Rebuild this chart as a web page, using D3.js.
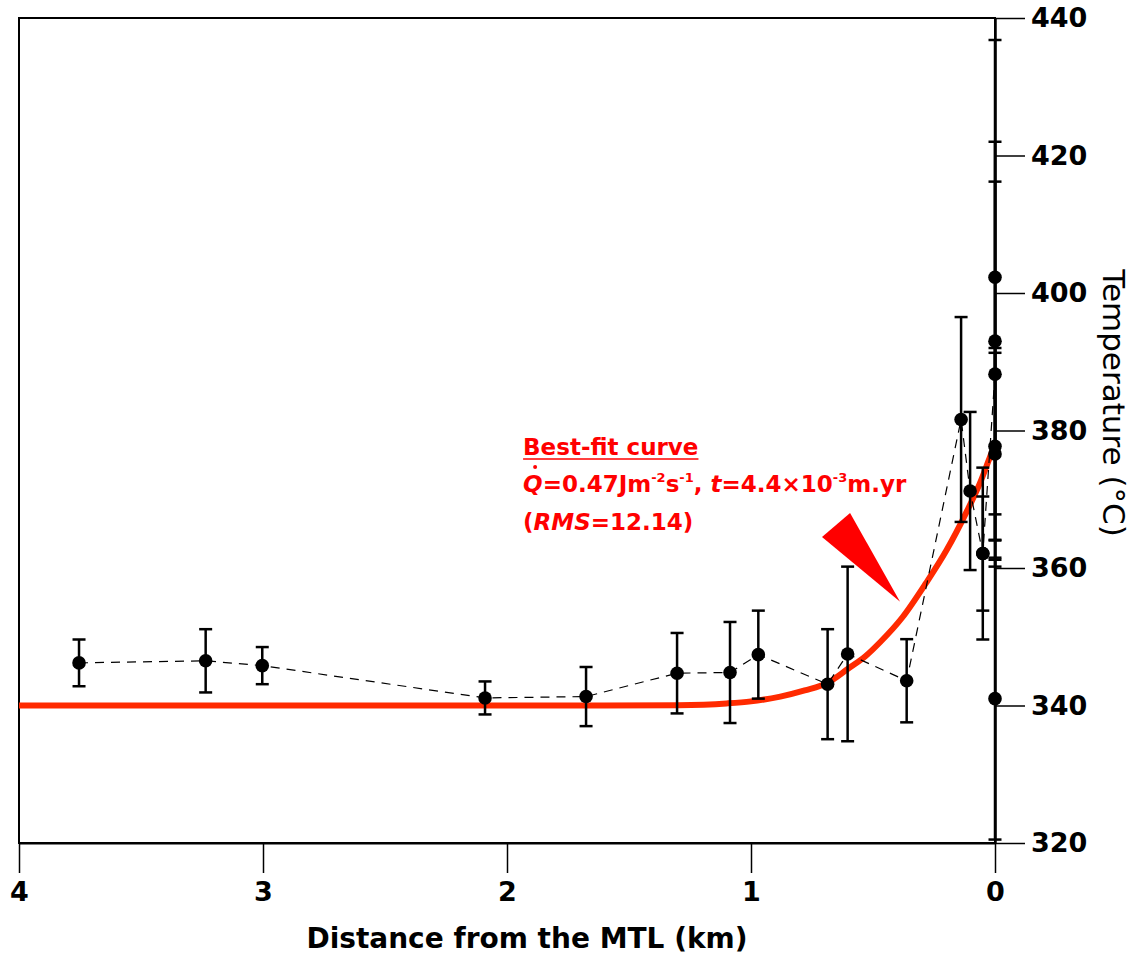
<!DOCTYPE html>
<html>
<head>
<meta charset="utf-8">
<script src="https://cdn.jsdelivr.net/npm/d3@7"></script>
<style>
  body { margin: 0; background: #fff; }
  text { font-family: "DejaVu Sans", sans-serif; }
</style>
</head>
<body>
<div id="chart"></div>
<script>
// measured samples (distance from MTL, temperature, error)
const distKm = [3.754, 3.235, 3.003, 2.09, 1.676, 1.303, 1.086, 0.970, 0.686, 0.604, 0.362,
  0.139, 0.102, 0.050, 0.050, 0, 0, 0, 0, 0, 0];
const tempC = [346.2, 346.5, 345.8, 341.1, 341.3, 344.7, 344.8, 347.4, 343.1, 347.5, 343.6,
  381.6, 371.2, 362.1, 362.1, 388.2, 402.3, 393.0, 377.7, 376.6, 341.0];
const errC = [3.4, 4.6, 2.7, 2.4, 4.3, 5.85, 7.35, 6.4, 8.0, 12.7, 6.05,
  14.9, 11.5, 12.5, 8.3, 28.0, 34.5, 29.0, 13.6, 15.4, 20.5];

// best-fit curve
const fitKm = [4, 1.6, 1.3, 1.1, 1.0, 0.88, 0.78, 0.686, 0.604, 0.53, 0.471, 0.38, 0.283, 0.2, 0.116, 0.06, 0.02, 0];
const fitC = [340, 340, 340.05, 340.3, 340.6, 341.3, 342.2, 343.3, 345.3, 347.2, 349.2, 352.8, 357.8, 362.5, 368.2, 372.5, 376.2, 378];

const xTicks = [4, 3, 2, 1, 0];
const yTicks = [320, 340, 360, 380, 400, 420, 440];

// annotation arrow (data units)
const arrowKm = [0.709, 0.594, 0.389];
const arrowC = [364.5, 368.0, 355.1];

const width = 1137;
const height = 956;

const x = d3.scaleLinear().domain([4, 0]).range([19, 995]);
const y = d3.scaleLinear().domain([320, 440]).range([843, 18]);

const svg = d3.select('#chart')
  .append('svg')
  .attr('width', width)
  .attr('height', height);

// frame
svg.append('rect')
  .attr('x', x(4))
  .attr('y', y(440))
  .attr('width', x(0) - x(4))
  .attr('height', y(320) - y(440))
  .attr('fill', 'none')
  .attr('stroke', '#000')
  .attr('stroke-width', 2);

// best-fit curve
const fit = fitKm.map((d, i) => [d, fitC[i]]);
svg.append('path')
  .datum(fit)
  .attr('fill', 'none')
  .attr('stroke', '#ff2a00')
  .attr('stroke-width', 6)
  .attr('d', d3.line().x((d) => x(d[0])).y((d) => y(d[1])).curve(d3.curveMonotoneX));

// arrow
svg.append('path')
  .datum(arrowKm.map((d, i) => [x(d), y(arrowC[i])]))
  .attr('fill', '#ff0000')
  .attr('d', (d) => `M${d.join('L')}Z`);

const pts = distKm.map((d, i) => ({ d, t: tempC[i], e: errC[i] }));

// dashed connecting line
svg.append('path')
  .datum(pts)
  .attr('fill', 'none')
  .attr('stroke', '#000')
  .attr('stroke-width', 1.2)
  .attr('stroke-dasharray', '9,7')
  .attr('d', d3.line().x((p) => x(p.d)).y((p) => y(p.t)));

// error bars
const bars = svg.append('g')
  .attr('stroke', '#000')
  .attr('stroke-width', 2.5);

pts.forEach((p) => {
  const cx = x(p.d);
  bars.append('line')
    .attr('x1', cx).attr('x2', cx)
    .attr('y1', y(p.t - p.e)).attr('y2', y(p.t + p.e));
  [p.t - p.e, p.t + p.e].forEach((v) => {
    bars.append('line')
      .attr('x1', cx - 6.5).attr('x2', cx + 6.5)
      .attr('y1', y(v)).attr('y2', y(v));
  });
});

svg.append('g')
  .selectAll('circle')
  .data(pts)
  .join('circle')
  .attr('cx', (p) => x(p.d))
  .attr('cy', (p) => y(p.t))
  .attr('r', 6.8)
  .attr('fill', '#000');

// right axis (temperature)
const yAxis = svg.append('g')
  .attr('transform', `translate(${x(0)},0)`)
  .call(d3.axisRight(y).tickValues(yTicks).tickSize(30).tickSizeOuter(0).tickPadding(6));
yAxis.select('.domain').attr('stroke-width', 2.5);
yAxis.selectAll('.tick line').attr('stroke-width', 1.5);
yAxis.selectAll('text')
  .attr('font-size', 27)
  .attr('font-weight', 'bold')
  .attr('font-family', 'DejaVu Sans')
  .attr('fill', '#000');

// bottom axis (distance)
const xAxis = svg.append('g')
  .attr('transform', `translate(0,${y(320)})`)
  .call(d3.axisBottom(x).tickValues(xTicks).tickSize(30).tickSizeOuter(0).tickPadding(9).tickFormat(d3.format('d')));
xAxis.select('.domain').attr('stroke-width', 2);
xAxis.selectAll('.tick line').attr('stroke-width', 1.5);
xAxis.selectAll('text')
  .attr('font-size', 27)
  .attr('font-weight', 'bold')
  .attr('font-family', 'DejaVu Sans')
  .attr('fill', '#000');

svg.append('text')
  .attr('x', 527)
  .attr('y', 948)
  .attr('text-anchor', 'middle')
  .attr('font-size', 28)
  .attr('font-weight', 'bold')
  .text('Distance from the MTL (km)');

svg.append('text')
  .attr('transform', 'translate(1103,403) rotate(90)')
  .attr('text-anchor', 'middle')
  .attr('font-size', 31)
  .text('Temperature  (°C)');

// annotation
const ax = x(1.934);
const note = svg.append('g')
  .attr('fill', '#ff0000')
  .attr('font-weight', 'bold')
  .attr('font-size', 23);

const t1 = note.append('text')
  .attr('x', ax)
  .attr('y', 455)
  .text('Best-fit curve');
const w1 = t1.node().getComputedTextLength();
note.append('line')
  .attr('x1', ax).attr('x2', ax + w1)
  .attr('y1', 459).attr('y2', 459)
  .attr('stroke', '#ff0000')
  .attr('stroke-width', 1.6);

const t2 = note.append('text')
  .attr('x', ax)
  .attr('y', 492);
t2.append('tspan').attr('font-style', 'italic').text('Q');
t2.append('tspan').text('=0.47Jm');
t2.append('tspan').attr('font-size', 13).attr('dy', -10).text('-2');
t2.append('tspan').attr('dy', 10).text('s');
t2.append('tspan').attr('font-size', 13).attr('dy', -10).text('-1');
t2.append('tspan').attr('dy', 10).text(', ');
t2.append('tspan').attr('font-style', 'italic').text('t');
t2.append('tspan').text('=4.4×10');
t2.append('tspan').attr('font-size', 13).attr('dy', -10).text('-3');
t2.append('tspan').attr('dy', 10).text('m.yr');

// dot over Q
note.append('circle')
  .attr('cx', ax + 12)
  .attr('cy', 467)
  .attr('r', 2);

const t3 = note.append('text')
  .attr('x', ax)
  .attr('y', 530);
t3.append('tspan').text('(');
t3.append('tspan').attr('font-style', 'italic').text('RMS');
t3.append('tspan').text('=12.14)');
</script>
</body>
</html>
